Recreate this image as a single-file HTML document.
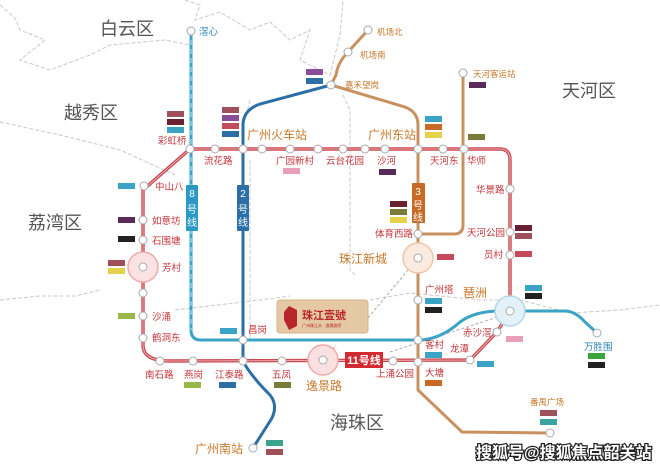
<!DOCTYPE html>
<html><head><meta charset="utf-8"><style>
html,body{margin:0;padding:0;background:#fff;}
svg{display:block;font-family:"Liberation Sans","Noto Sans CJK SC",sans-serif;}
.s{fill:#fff;stroke:#aaa;stroke-width:1}
.r{fill:#c4363c;font-size:9.5px}
.o{fill:#c8782a;font-size:9.5px}
.b{fill:#2a86b0;font-size:9.5px}
.d{fill:#555;font-size:18px}
.big{font-size:12px}
.sm{font-size:8.5px}
</style></head><body>
<svg width="660" height="467" viewBox="0 0 660 467" xmlns="http://www.w3.org/2000/svg">
<g fill="none" stroke="#c8c8c8" stroke-width="1" stroke-dasharray="4,2">
<path d="M0,5 L15,18 L20,30 L45,40 L20,60 L50,70 L90,55 L110,45 L165,40 L190,45"/>
<path d="M0,122 L60,135 L120,150 L175,175"/>
<path d="M185,0 L200,5 L195,20 L220,12 L250,30 L270,22 L290,40 L310,30 L300,60 L330,75 L340,35 L343,0"/>
<path d="M343,95 L350,110 L350,270 L355,275"/>
<path d="M250,100 L245,120"/>
<path d="M0,300 L40,296 L75,296 L100,290"/>
<path d="M175,310 L260,300 L290,296"/>
<path d="M370,300 L410,293 L480,300 L520,300 L570,313 L620,310 L660,305"/>
<path d="M250,160 L250,340"/>
</g>
<g fill="none" stroke="#999" stroke-width="0.8" stroke-dasharray="3,2">
<path d="M418,258 L368,318"/>
<path d="M390,352 L510,313"/>
<path d="M320,365 L336,345"/>
</g>
<path d="M191,31 L191,330 Q191,340 201,340 L418,340 Q440,340 460,322 Q475,311 500,311 L565,311 Q575,311 585,322 L597,333" fill="none" stroke="#3aa3c6" stroke-width="3"/>
<path d="M191,31 L191,330" stroke="#fff" stroke-width="0.7" stroke-dasharray="5,4" fill="none"/>
<path d="M331,85 L260,104 Q243,110 243,125 L243,361 Q250,375 270,395 Q278,405 272,418 L253,448" fill="none" stroke="#2c6fa6" stroke-width="3"/>
<path d="M368,30 L348,52 Q338,62 336,75 L331,85 L405,107 Q418,112 418,125 L418,390 L462,432 L550,433" fill="none" stroke="#c99060" stroke-width="3"/>
<path d="M463,73 L463,225 Q463,234 454,234 L418,234" fill="none" stroke="#c99060" stroke-width="3"/>
<path d="M190,149 L500,149 Q510,149 510,160 L510,311 L497,332 L470,360 L170,361 Q143,361 143,345 L143,190 L190,149 Z" fill="none" stroke="#c94a52" stroke-width="3.4"/>
<path d="M190,149 L500,149 Q510,149 510,160 L510,311 L497,332 L470,360 L170,361 Q143,361 143,345 L143,190 L190,149 Z" fill="none" stroke="#f3c2c2" stroke-width="0.8"/>
<circle cx="143" cy="267" r="15" fill="#fbe3e3" stroke="#eaa" stroke-width="1.5"/>
<circle cx="323" cy="360" r="15" fill="#fbe0e2" stroke="#eaa" stroke-width="1.5"/>
<circle cx="418" cy="258" r="15" fill="#fbeade" stroke="#eec5a8" stroke-width="1.5"/>
<circle cx="510" cy="311" r="15" fill="#e3f1f8" stroke="#b5d7e6" stroke-width="1.5"/>
<g class="s">
<circle cx="191" cy="31" r="4"/><circle cx="368" cy="30" r="4"/><circle cx="348" cy="52" r="4"/><circle cx="331" cy="85" r="4"/><circle cx="463" cy="73" r="4"/>
<circle cx="190" cy="149" r="4"/><circle cx="215" cy="149" r="4"/><circle cx="243" cy="149" r="4"/><circle cx="262" cy="149" r="4"/><circle cx="290" cy="149" r="4"/><circle cx="318" cy="149" r="4"/><circle cx="343" cy="149" r="4"/><circle cx="365" cy="149" r="4"/><circle cx="385" cy="149" r="4"/><circle cx="418" cy="149" r="4"/><circle cx="443" cy="149" r="4"/><circle cx="464" cy="149" r="4"/>
<circle cx="510" cy="189" r="4"/><circle cx="510" cy="232" r="4"/><circle cx="510" cy="255" r="4"/><circle cx="510" cy="311" r="4"/><circle cx="497" cy="332" r="4"/><circle cx="470" cy="360" r="4"/>
<circle cx="144" cy="186" r="4"/><circle cx="143" cy="220" r="4"/><circle cx="143" cy="240" r="4"/><circle cx="143" cy="267" r="4"/><circle cx="143" cy="293" r="4"/><circle cx="143" cy="316" r="4"/><circle cx="143" cy="338" r="4"/>
<circle cx="160" cy="361" r="4"/><circle cx="193" cy="361" r="4"/><circle cx="243" cy="361" r="4"/><circle cx="282" cy="361" r="4"/><circle cx="323" cy="360" r="4"/><circle cx="393" cy="361" r="4"/><circle cx="418" cy="362" r="4"/>
<circle cx="418" cy="234" r="4"/><circle cx="418" cy="258" r="4"/><circle cx="418" cy="300" r="4"/><circle cx="418" cy="340" r="4"/><circle cx="243" cy="340" r="4"/><circle cx="597" cy="333" r="4"/><circle cx="550" cy="433" r="4"/><circle cx="253" cy="448" r="4"/>
</g>
<rect x="186" y="185" width="12" height="46" rx="1" fill="#2a9ac4"/>
<text x="192" y="197" fill="#fff" style="font-size:10px" text-anchor="middle">8</text><text x="192" y="213" fill="#fff" style="font-size:10px" text-anchor="middle">号</text><text x="192" y="226" fill="#fff" style="font-size:10px" text-anchor="middle">线</text>
<rect x="237" y="185" width="12" height="46" rx="1" fill="#2c6fa6"/>
<text x="243" y="197" fill="#fff" style="font-size:10px" text-anchor="middle">2</text><text x="243" y="213" fill="#fff" style="font-size:10px" text-anchor="middle">号</text><text x="243" y="226" fill="#fff" style="font-size:10px" text-anchor="middle">线</text>
<rect x="412" y="183" width="13" height="40" rx="1" fill="#c86a26"/>
<text x="418" y="195" fill="#fff" style="font-size:10px" text-anchor="middle">3</text><text x="418" y="209" fill="#fff" style="font-size:10px" text-anchor="middle">号</text><text x="418" y="221" fill="#fff" style="font-size:10px" text-anchor="middle">线</text>
<rect x="345" y="352" width="38" height="16" fill="#d22a30"/>
<text x="364" y="364" fill="#fff" style="font-size:11px;font-weight:bold" text-anchor="middle">11号线</text>
<rect x="277" y="300" width="91" height="33" rx="3" fill="#e4c9a4" stroke="#d4b48a"/>
<path d="M289,306 L297,310 L297,326 L289,330 L284,320 L284,312 Z" fill="#b8262c"/>
<text x="302" y="319" fill="#b8262c" style="font-size:11px;font-weight:bold">珠江壹號</text>
<text x="302" y="327" fill="#b8262c" style="font-size:4px">广州珠江头 · 逸景路旁</text>
<text x="100" y="35" class="d">白云区</text>
<text x="64" y="119" class="d">越秀区</text>
<text x="28" y="229" class="d">荔湾区</text>
<text x="562" y="97" class="d">天河区</text>
<text x="330" y="429" class="d">海珠区</text>
<text x="199" y="35" class="b">滘心</text>
<text x="377" y="35" class="o sm">机场北</text>
<text x="360" y="58" class="o sm">机场南</text>
<text x="345" y="88" class="o sm">嘉禾望岗</text>
<text x="473" y="77" class="o sm">天河客运站</text>
<text x="247" y="139" class="o big">广州火车站</text>
<text x="368" y="139" class="o big">广州东站</text>
<text x="158" y="144" class="r">彩虹桥</text>
<text x="204" y="164" class="r">流花路</text>
<text x="276" y="164" class="r">广园新村</text>
<text x="326" y="164" class="r">云台花园</text>
<text x="377" y="164" class="r">沙河</text>
<text x="430" y="164" class="r">天河东</text>
<text x="467" y="164" class="r">华师</text>
<text x="476" y="193" class="r">华景路</text>
<text x="467" y="236" class="r">天河公园</text>
<text x="484" y="258" class="r">员村</text>
<text x="375" y="237" class="r">体育西路</text>
<text x="339" y="263" class="o big">珠江新城</text>
<text x="425" y="293" class="r">广州塔</text>
<text x="463" y="297" class="o big">琶洲</text>
<text x="463" y="336" class="r">赤沙滘</text>
<text x="450" y="352" class="r">龙潭</text>
<text x="425" y="348" class="r">客村</text>
<text x="425" y="376" class="r">大塘</text>
<text x="376" y="377" class="r">上涌公园</text>
<text x="584" y="350" class="b">万胜围</text>
<text x="530" y="405" class="o sm">番禺广场</text>
<text x="155" y="190" class="r">中山八</text>
<text x="152" y="224" class="r">如意坊</text>
<text x="152" y="244" class="r">石围塘</text>
<text x="162" y="271" class="r">芳村</text>
<text x="152" y="320" class="r">沙涌</text>
<text x="152" y="341" class="r">鹤洞东</text>
<text x="145" y="378" class="r">南石路</text>
<text x="184" y="378" class="r">燕岗</text>
<text x="215" y="378" class="r">江泰路</text>
<text x="272" y="378" class="r">五凤</text>
<text x="306" y="390" class="o big">逸景路</text>
<text x="248" y="333" class="r">昌岗</text>
<text x="195" y="453" class="o big">广州南站</text>
<g>
<rect x="167" y="111" width="17" height="6" fill="#a0505a"/><rect x="167" y="119" width="17" height="6" fill="#6a1f33"/><rect x="167" y="127" width="17" height="6" fill="#3aa3c6"/>
<rect x="222" y="107" width="17" height="6" fill="#a0505a"/><rect x="222" y="115" width="17" height="6" fill="#8a4d9a"/><rect x="222" y="123" width="17" height="6" fill="#c44a5c"/><rect x="222" y="131" width="17" height="6" fill="#2c6fa6"/>
<rect x="283" y="168" width="17" height="6" fill="#e8a0b4"/>
<rect x="379" y="169" width="17" height="6" fill="#5a2a5a"/>
<rect x="425" y="116" width="17" height="6" fill="#3aa3c6"/><rect x="425" y="124" width="17" height="6" fill="#c86a26"/><rect x="425" y="132" width="17" height="6" fill="#e5d24a"/>
<rect x="468" y="134" width="17" height="6" fill="#7a7a3a"/>
<rect x="469" y="82" width="17" height="6" fill="#5a2a5a"/>
<rect x="390" y="201" width="17" height="6" fill="#6a1f33"/><rect x="390" y="209" width="17" height="6" fill="#7a7a3a"/><rect x="390" y="217" width="17" height="6" fill="#e5d24a"/>
<rect x="437" y="254" width="17" height="6" fill="#c44a5c"/>
<rect x="515" y="225" width="17" height="6" fill="#6a1f33"/><rect x="515" y="233" width="17" height="6" fill="#a0505a"/>
<rect x="515" y="251" width="17" height="6" fill="#c44a5c"/>
<rect x="525" y="285" width="17" height="6" fill="#3aa3c6"/><rect x="525" y="293" width="17" height="6" fill="#222"/>
<rect x="425" y="298" width="17" height="6" fill="#3aa3c6"/><rect x="425" y="307" width="17" height="6" fill="#222"/>
<rect x="425" y="352" width="17" height="6" fill="#3aa3c6"/>
<rect x="425" y="380" width="17" height="6" fill="#c86a26"/>
<rect x="477" y="361" width="17" height="6" fill="#3aa3c6"/>
<rect x="506" y="336" width="17" height="6" fill="#e8a0b4"/>
<rect x="588" y="353" width="17" height="6" fill="#3aa33a"/><rect x="588" y="362" width="17" height="6" fill="#222"/>
<rect x="540" y="410" width="17" height="6" fill="#a0505a"/><rect x="540" y="419" width="17" height="6" fill="#3aa3a0"/>
<rect x="118" y="183" width="17" height="6" fill="#3aa3c6"/>
<rect x="118" y="217" width="17" height="6" fill="#5a2a5a"/>
<rect x="118" y="236" width="17" height="6" fill="#222"/>
<rect x="108" y="260" width="17" height="6" fill="#a0505a"/><rect x="108" y="268" width="17" height="6" fill="#e5d24a"/>
<rect x="118" y="313" width="17" height="6" fill="#9ab84a"/>
<rect x="220" y="328" width="17" height="6" fill="#3aa3c6"/>
<rect x="184" y="382" width="17" height="6" fill="#9ab84a"/>
<rect x="219" y="382" width="17" height="6" fill="#2c6fa6"/>
<rect x="274" y="382" width="17" height="6" fill="#7a7a3a"/>
<rect x="266" y="440" width="17" height="6" fill="#3aa38a"/><rect x="266" y="449" width="17" height="6" fill="#a0505a"/>
<rect x="306" y="69" width="17" height="6" fill="#8a4d9a"/><rect x="306" y="78" width="17" height="6" fill="#2c6fa6"/>
</g>
<text x="476" y="458" style="font-size:16px;font-weight:bold" fill="#fff" stroke="#222" stroke-width="2.5" paint-order="stroke">搜狐号@搜狐焦点韶关站</text>
</svg>
</body></html>
